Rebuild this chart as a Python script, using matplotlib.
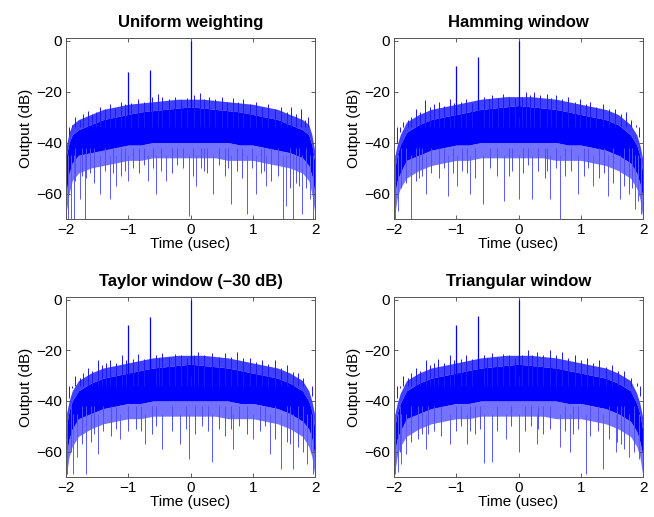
import matplotlib
matplotlib.use("Agg")
from matplotlib import pyplot as plt

plt.rcParams['font.family'] = ['Liberation Sans', 'DejaVu Sans']

titles = ['Uniform weighting', 'Hamming window', 'Taylor window (\u201330 dB)', 'Triangular window']

# envelope sample times (usec)
t_env = [-2, -1.95, -1.9, -1.8, -1.6, -1.4, -1.2, -1.0, -0.8, -0.6, -0.4, -0.2, 0,
         0.2, 0.4, 0.6, 0.8, 1.0, 1.2, 1.4, 1.6, 1.8, 1.9, 1.95, 2]

# fringe top, dense band top, dark band bottom, light band bottom (dB)
fringe_uni = [-42, -36, -33, -31, -29, -27, -26, -25, -24.5, -24, -23.5, -23, -23,
              -23, -23.5, -24, -24.5, -25, -26, -27, -29, -31, -33, -37, -44]
top_uni = [-46, -40, -37, -35, -33, -31, -30, -29, -28, -27.5, -27, -26.5, -26,
           -26.5, -27, -27.5, -28, -29, -30, -31, -33, -35, -37, -41, -48]
dark_uni = [-60, -52, -48, -45, -44, -43, -42, -41, -41, -40, -40, -40, -40,
            -40, -40, -40, -41, -41, -42, -43, -44, -46, -49, -53, -60]
light_uni = [-68, -60, -55, -52, -50, -49, -48, -47, -47, -46, -46, -46, -46,
             -46, -46, -47, -47, -47, -48, -49, -50, -52, -55, -60, -68]

fringe_ham = [-47, -41, -37, -32, -29, -27, -26, -25, -24, -23, -22.5, -22, -22,
              -22, -22.5, -23, -24, -25, -26, -27, -29, -33, -37, -41, -47]
top_ham = [-52, -45, -41, -36, -33, -31, -30, -29, -28, -27, -26.5, -26, -25.5,
           -26, -26.5, -27, -28, -29, -30, -31, -33, -37, -41, -45, -52]
dark_ham = [-62, -55, -52, -47, -45, -43, -42, -41, -41, -40, -40, -40, -40,
            -40, -40, -40, -41, -41, -42, -43, -45, -48, -52, -56, -62]
light_ham = [-70, -62, -58, -54, -51, -49, -48, -47, -47, -46, -46, -46, -46,
             -46, -46, -47, -47, -47, -48, -49, -51, -54, -58, -62, -70]

fringe_tay = [-46, -40, -36, -32, -29, -27, -26, -25, -24, -23, -22.5, -22, -22,
              -22, -22.5, -23, -24, -25, -26, -27, -29, -32, -36, -40, -46]
top_tay = [-51, -44, -40, -36, -33, -31, -30, -29, -28, -27, -26.5, -26, -25.5,
           -26, -26.5, -27, -28, -29, -30, -31, -33, -36, -40, -44, -51]
dark_tay = [-62, -55, -51, -47, -45, -43, -42, -41, -41, -40, -40, -40, -40,
            -40, -40, -40, -41, -41, -42, -43, -45, -48, -51, -55, -62]
light_tay = [-70, -62, -58, -54, -51, -49, -48, -47, -47, -46, -46, -46, -46,
             -46, -46, -47, -47, -47, -48, -49, -51, -54, -58, -62, -70]

fringe_tri = [-47, -41, -37, -32, -29, -27, -26, -25, -24, -23, -22.5, -22, -22,
              -22, -22.5, -23, -24, -25, -26, -27, -29, -32, -37, -41, -47]
top_tri = [-52, -45, -41, -36, -33, -31, -30, -29, -28, -27, -26.5, -26, -25.5,
           -26, -26.5, -27, -28, -29, -30, -31, -33, -36, -41, -45, -52]
dark_tri = [-62, -55, -52, -47, -45, -43, -42, -41, -41, -40, -40, -40, -40,
            -40, -40, -40, -41, -41, -42, -43, -45, -48, -52, -56, -62]
light_tri = [-70, -62, -58, -54, -51, -49, -48, -47, -47, -46, -46, -46, -46,
             -46, -46, -47, -47, -47, -48, -49, -51, -54, -58, -62, -70]

# target returns: (time, dB)
spikes_uni = [(-1.0, -12.5), (-0.65, -11.5), (0.0, 0.0)]
spikes_ham = [(-1.0, -10.0), (-0.65, -6.5), (0.0, 0.0)]
spikes_tay = [(-1.0, -10.0), (-0.65, -7.0), (0.0, 0.0)]
spikes_tri = [(-1.0, -10.0), (-0.65, -6.5), (0.0, 0.0)]

# deep nulls: (time, dB)
dips_uni = [(-1.97, -70), (-1.92, -70), (-1.87, -70), (-1.78, -62), (-1.69, -70),
            (-1.46, -60), (-1.30, -62), (-1.20, -57), (-1.00, -55), (-0.68, -55),
            (-0.55, -60), (-0.39, -55), (-0.02, -69), (0.09, -57), (0.36, -60),
            (0.65, -64), (0.90, -68), (1.06, -60), (1.22, -57), (1.48, -70),
            (1.54, -65), (1.65, -70), (1.79, -68), (1.92, -62), (1.97, -70)]
dips_ham = [(-1.98, -70), (-1.93, -67), (-1.73, -70), (-1.48, -60), (-1.14, -61),
            (-0.99, -57), (-0.78, -60), (-0.57, -64), (-0.23, -63), (0.0, -62),
            (0.21, -62), (0.51, -62), (0.66, -70), (0.96, -60), (1.20, -57),
            (1.44, -61), (1.63, -62), (1.87, -66), (1.97, -68), (1.92, -63)]
dips_tay = [(-1.99, -69), (-1.89, -69), (-1.82, -62), (-1.68, -69), (-1.48, -61),
            (-1.13, -55), (-0.73, -57), (-0.46, -59), (-0.17, -57), (-0.02, -63),
            (0.34, -64), (0.69, -59), (1.01, -55), (1.27, -61), (1.46, -67),
            (1.65, -67), (1.87, -65), (1.97, -69), (1.93, -60)]
dips_tri = [(-1.98, -69), (-1.93, -68), (-1.88, -65), (-1.80, -61), (-1.48, -59),
            (-1.10, -57), (-0.83, -57), (-0.56, -64.5), (-0.43, -64), (-0.20, -55),
            (0.0, -60), (0.29, -57), (0.66, -58), (0.82, -60), (1.08, -69),
            (1.36, -67), (1.57, -60), (1.78, -62), (2.0, -69), (1.93, -63)]

# shallower nulls in the light band
mid_uni = [(-1.85, -55), (-1.75, -53), (-1.62, -52), (-1.55, -56), (-1.38, -51),
           (-1.25, -52), (-1.12, -53), (-0.92, -50), (-0.82, -52), (-0.75, -49),
           (-0.47, -51), (-0.30, -52), (-0.22, -49), (-0.12, -50), (0.04, -53),
           (0.17, -50), (0.27, -52), (0.45, -49), (0.55, -53), (0.74, -51),
           (0.83, -54), (0.98, -50), (1.13, -52), (1.30, -55), (1.40, -53),
           (1.60, -58), (1.70, -56), (1.85, -58), (-1.68, -54), (-1.05, -51),
           (-0.60, -50), (0.22, -51), (0.60, -50), (1.18, -51), (1.75, -57)]
mid_ham = [(-1.88, -58), (-1.80, -56), (-1.65, -55), (-1.55, -53), (-1.40, -52),
           (-1.28, -54), (-1.20, -50), (-1.05, -52), (-0.90, -51), (-0.70, -54),
           (-0.45, -50), (-0.35, -53), (-0.10, -51), (0.08, -52), (0.15, -49),
           (0.32, -51), (0.42, -54), (0.60, -50), (0.75, -53), (0.85, -51),
           (1.05, -53), (1.12, -50), (1.30, -54), (1.52, -56), (1.70, -57),
           (1.78, -60), (1.83, -58), (-1.60, -54), (-0.82, -52), (-0.15, -53),
           (0.45, -51), (1.38, -52)]
mid_tay = [(-1.92, -60), (-1.75, -57), (-1.60, -56), (-1.55, -53), (-1.40, -52),
           (-1.28, -54), (-1.20, -51), (-1.00, -52), (-0.88, -51), (-0.62, -53),
           (-0.55, -50), (-0.30, -52), (-0.08, -51), (0.08, -53), (0.18, -50),
           (0.45, -51), (0.55, -54), (0.78, -50), (0.90, -53), (1.12, -52),
           (1.20, -50), (1.35, -55), (1.55, -56), (1.72, -58), (1.80, -60),
           (-1.68, -55), (-0.80, -52), (0.28, -52), (0.65, -51), (1.60, -57)]
mid_tri = [(-1.90, -60), (-1.72, -56), (-1.62, -55), (-1.55, -53), (-1.35, -52),
           (-1.25, -54), (-1.00, -52), (-0.92, -50), (-0.70, -53), (-0.62, -51),
           (-0.35, -52), (-0.12, -50), (0.10, -52), (0.20, -50), (0.40, -53),
           (0.50, -51), (0.75, -52), (0.95, -51), (1.15, -54), (1.28, -52),
           (1.45, -55), (1.65, -57), (1.70, -59), (1.85, -60), (-1.45, -53),
           (-0.78, -52), (0.32, -51), (0.88, -53), (1.58, -56)]

# bits that stick out of the top of the band
peaks_uni = [(-1.95, -37), (-1.90, -33), (-1.85, -30), (-1.78, -31), (-1.72, -29),
             (-1.65, -27.5), (-1.58, -29), (-1.52, -28), (-1.45, -26), (-1.38, -27),
             (-1.30, -25), (-1.22, -26.5), (-1.12, -24), (-1.05, -25), (-0.95, -24.5),
             (-0.85, -23), (-0.75, -24), (-0.62, -22), (-0.52, -21), (-0.45, -22),
             (-0.35, -23), (-0.25, -22), (-0.15, -23.5), (-0.05, -22.5), (0.05, -21.5),
             (0.15, -20.5), (0.22, -23), (0.30, -22), (0.40, -23), (0.50, -22),
             (0.58, -24), (0.68, -22.5), (0.76, -24), (0.85, -23), (0.95, -25),
             (1.05, -24), (1.15, -26), (1.25, -25), (1.35, -27), (1.45, -26),
             (1.55, -28), (1.62, -26), (1.70, -29), (1.78, -27), (1.84, -31),
             (1.88, -30), (1.94, -34)]
peaks_ham = [(-1.95, -40), (-1.90, -36), (-1.85, -32), (-1.78, -31), (-1.72, -30),
             (-1.65, -27), (-1.58, -28), (-1.50, -23.5), (-1.42, -26), (-1.35, -25),
             (-1.28, -24), (-1.20, -25.5), (-1.10, -23), (-1.04, -24.5), (-0.92, -24),
             (-0.85, -23), (-0.75, -24.5), (-0.55, -22), (-0.48, -23), (-0.42, -21.5),
             (-0.33, -22.5), (-0.25, -21), (-0.15, -22), (-0.06, -22.5), (0.01, -19.5),
             (0.06, -22), (0.12, -20), (0.18, -21.5), (0.25, -20), (0.35, -21.5),
             (0.45, -21), (0.52, -22.5), (0.60, -21.5), (0.70, -23), (0.80, -22),
             (0.90, -24), (0.98, -23), (1.08, -25), (1.15, -24), (1.25, -26),
             (1.35, -25), (1.45, -27), (1.55, -27), (1.65, -29), (1.72, -28),
             (1.80, -31), (1.88, -33), (1.94, -38)]
peaks_tay = [(-1.95, -39), (-1.90, -35), (-1.85, -30), (-1.78, -31), (-1.72, -29),
             (-1.65, -27), (-1.58, -28), (-1.48, -24), (-1.42, -26), (-1.35, -25),
             (-1.30, -24), (-1.20, -25), (-1.10, -22), (-1.04, -24), (-0.92, -23.5),
             (-0.85, -21.5), (-0.75, -23.5), (-0.55, -22), (-0.50, -23), (-0.45, -21),
             (-0.35, -22.5), (-0.25, -21.5), (-0.15, -22), (-0.06, -23), (0.01, -20),
             (0.06, -22), (0.12, -20.5), (0.22, -22), (0.35, -21), (0.45, -22.5),
             (0.55, -21), (0.65, -22.5), (0.75, -20.5), (0.85, -23), (0.95, -23),
             (1.05, -24.5), (1.15, -24), (1.25, -25.5), (1.35, -24), (1.45, -27),
             (1.55, -26), (1.65, -28.5), (1.72, -29), (1.80, -31), (1.90, -34),
             (1.95, -38)]
peaks_tri = [(-1.95, -39), (-1.90, -35), (-1.85, -30), (-1.78, -31), (-1.72, -29),
             (-1.65, -27), (-1.58, -28), (-1.48, -24), (-1.42, -26), (-1.35, -25),
             (-1.30, -23.5), (-1.20, -25), (-1.10, -22), (-1.04, -24), (-0.92, -23.5),
             (-0.85, -22), (-0.75, -23.5), (-0.55, -22), (-0.50, -23), (-0.42, -21),
             (-0.35, -22.5), (-0.25, -21.5), (-0.15, -22), (-0.06, -23), (0.01, -19),
             (0.06, -22), (0.15, -20), (0.22, -22), (0.30, -20.5), (0.40, -22),
             (0.50, -20), (0.60, -22), (0.70, -20.5), (0.80, -23), (0.90, -22),
             (1.00, -24), (1.10, -23), (1.20, -25), (1.30, -24), (1.40, -26.5),
             (1.50, -26), (1.60, -28), (1.70, -28), (1.80, -31), (1.90, -33),
             (1.95, -38)]

fringes = [fringe_uni, fringe_ham, fringe_tay, fringe_tri]
tops = [top_uni, top_ham, top_tay, top_tri]
darks = [dark_uni, dark_ham, dark_tay, dark_tri]
lights = [light_uni, light_ham, light_tay, light_tri]
spikes = [spikes_uni, spikes_ham, spikes_tay, spikes_tri]
dips = [dips_uni, dips_ham, dips_tay, dips_tri]
mids = [mid_uni, mid_ham, mid_tay, mid_tri]
peaks = [peaks_uni, peaks_ham, peaks_tay, peaks_tri]

# axes boxes in pixels (left, top, right, bottom) on a 654x517 canvas
W, H = 654.0, 517.0
boxes = [(66, 38, 315, 219), (394, 38, 643, 219),
         (66, 297, 315, 477), (394, 297, 643, 477)]

fig = plt.figure(figsize=(6.54, 5.17), dpi=100)
for i in range(4):
    l, t, r, b = boxes[i]
    ax = fig.add_axes([l / W, 1 - b / H, (r - l) / W, (b - t) / H])
    ax.fill_between(t_env, lights[i], darks[i], color=(0.45, 0.45, 1.0), lw=0)
    ax.fill_between(t_env, tops[i], fringes[i], color=(0.25, 0.25, 1.0), lw=0)
    ax.fill_between(t_env, darks[i], tops[i], color=(0, 0, 1), lw=0)
    # light-band nulls
    ax.vlines([p[0] for p in mids[i]], [p[1] for p in mids[i]],
              [-42 for p in mids[i]], color=(0.3, 0.3, 1.0), lw=0.7)
    # deep nulls
    ax.vlines([p[0] for p in dips[i]], [p[1] for p in dips[i]],
              [-45 for p in dips[i]], color=(0.35, 0.35, 1.0), lw=0.7)
    # upper ragged edge
    ax.vlines([p[0] for p in peaks[i]], [-34 for p in peaks[i]],
              [p[1] for p in peaks[i]], color=(0.1, 0.1, 1.0), lw=0.7)
    # targets
    ax.vlines([p[0] for p in spikes[i]], [-30 for p in spikes[i]],
              [p[1] for p in spikes[i]], color=(0, 0, 1), lw=0.9)
    ax.set_xlim(-2, 2)
    ax.set_ylim(-70, 1)
    ax.set_xticks([-2, -1, 0, 1, 2])
    ax.set_xticklabels(['\u22122', '\u22121', '0', '1', '2'])
    ax.set_yticks([-60, -40, -20, 0])
    ax.set_yticklabels(['\u221260', '\u221240', '\u221220', '0'])
    ax.tick_params(direction='in', top=True, right=True, labelsize=11,
                   length=3, width=0.6, color='#444444', pad=3)
    for s in ax.spines.values():
        s.set_color('#555555')
        s.set_linewidth(0.7)
    ax.set_title(titles[i], fontsize=12, fontweight='bold', pad=8)
    ax.set_xlabel('Time (usec)', fontsize=11, labelpad=0)
    ax.set_ylabel('Output (dB)', fontsize=11, labelpad=2)

fig.savefig('out.png', dpi=100)
